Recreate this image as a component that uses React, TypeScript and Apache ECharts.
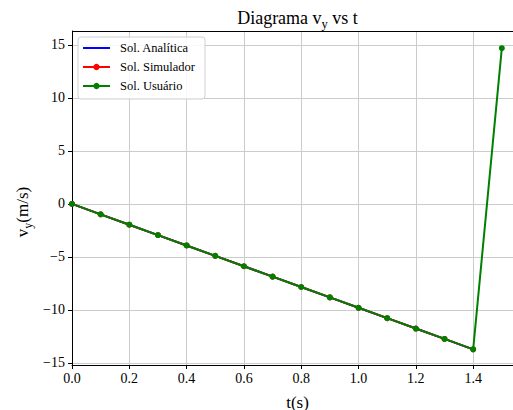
import React, { useEffect, useRef } from "react";
import * as echarts from "echarts";

const tAnalitica = [0, 0.1, 0.2, 0.3, 0.4, 0.5, 0.6, 0.7, 0.8, 0.9, 1.0, 1.1, 1.2, 1.3, 1.4];
const vAnalitica = [0, -0.98, -1.96, -2.94, -3.92, -4.9, -5.88, -6.86, -7.84, -8.82, -9.8, -10.78, -11.76, -12.74, -13.72];
const tSimulador = [0, 0.1, 0.2, 0.3, 0.4, 0.5, 0.6, 0.7, 0.8, 0.9, 1.0, 1.1, 1.2, 1.3, 1.4];
const vSimulador = [0, -0.98, -1.96, -2.94, -3.92, -4.9, -5.88, -6.86, -7.84, -8.82, -9.8, -10.78, -11.76, -12.74, -13.72];
const tUsuario = [0, 0.1, 0.2, 0.3, 0.4, 0.5, 0.6, 0.7, 0.8, 0.9, 1.0, 1.1, 1.2, 1.3, 1.4, 1.5];
const vUsuario = [0, -0.98, -1.96, -2.94, -3.92, -4.9, -5.88, -6.86, -7.84, -8.82, -9.8, -10.78, -11.76, -12.74, -13.72, 14.7];
const xTicks = [0, 0.2, 0.4, 0.6, 0.8, 1.0, 1.2, 1.4];
const yTicks = [-15, -10, -5, 0, 5, 10, 15];

const FONT = "Liberation Serif";

const pairs = (xs: number[], ys: number[]) => xs.map((x, i) => [x, ys[i]]);

export default function App() {
  const ref = useRef<HTMLDivElement>(null);
  useEffect(() => {
    document.body.style.margin = "0";
    const chart = echarts.init(ref.current!, undefined, { renderer: "svg" });
    const gridLeft = 72;
    const gridTop = 31;
    const gridW = 441;
    const gridH = 334;
    const centerX = 297.5;
    chart.setOption({
      animation: false,
      textStyle: { fontFamily: FONT },
      grid: { left: gridLeft, top: gridTop, width: gridW, height: gridH, containLabel: false },
      legend: {
        orient: "vertical",
        left: 78,
        top: 37,
        padding: [4, 10, 6, 4],
        itemGap: 5,
        itemWidth: 27,
        itemHeight: 8,
        backgroundColor: "rgba(255,255,255,0.85)",
        borderColor: "#d0d0d0",
        borderWidth: 1,
        borderRadius: 3,
        textStyle: { fontFamily: FONT, fontSize: 12.5, color: "#000", lineHeight: 14, padding: [0, 0, 0, 5] },
        data: [
          { name: "Sol. Analítica", icon: "path://M0,0h27v2h-27z" },
          { name: "Sol. Simulador" },
          { name: "Sol. Usuário" },
        ],
      },
      xAxis: {
        type: "value",
        min: 0,
        max: 1.539,
        axisLine: { show: true, onZero: false, lineStyle: { color: "#000", width: 1 } },
        axisTick: { show: true, length: 4, lineStyle: { color: "#000" }, customValues: xTicks },
        axisLabel: {
          customValues: xTicks,
          color: "#000",
          fontFamily: FONT,
          fontSize: 14,
          margin: 6,
          formatter: (v: number) => v.toFixed(1),
        },
        splitLine: { show: true, lineStyle: { color: "#cccccc", width: 1 } },
      },
      yAxis: {
        type: "value",
        min: -15.2,
        max: 16.32,
        axisLine: { show: true, onZero: false, lineStyle: { color: "#000", width: 1 } },
        axisTick: { show: true, length: 4, lineStyle: { color: "#000" }, customValues: yTicks },
        axisLabel: {
          customValues: yTicks,
          color: "#000",
          fontFamily: FONT,
          fontSize: 14,
          margin: 7,
          formatter: (v: number) => (v < 0 ? "\u2212" + Math.abs(v) : String(v)),
        },
        splitLine: { show: true, lineStyle: { color: "#cccccc", width: 1 } },
      },
      graphic: [
        {
          type: "line",
          shape: { x1: gridLeft, y1: gridTop + 0.5, x2: gridLeft + gridW, y2: gridTop + 0.5 },
          style: { stroke: "#000", lineWidth: 1 },
          z: 100,
        },
        {
          type: "text",
          x: centerX,
          y: 6,
          style: {
            text: "{a|Diagrama v}{s|y}{a| vs t}",
            textAlign: "center",
            textVerticalAlign: "top",
            rich: {
              a: { fontFamily: FONT, fontSize: 18, color: "#000", lineHeight: 24, verticalAlign: "middle" },
              s: { fontFamily: FONT, fontSize: 12.5, color: "#000", lineHeight: 24, verticalAlign: "bottom" },
            },
          },
        },
        {
          type: "text",
          x: centerX,
          y: 402,
          style: {
            text: "t(s)",
            textAlign: "center",
            textVerticalAlign: "middle",
            fontFamily: FONT,
            fontSize: 17,
            fill: "#000",
          },
        },
        {
          type: "text",
          x: 22,
          y: 212,
          rotation: Math.PI / 2,
          style: {
            text: "{a|v}{s|y}{a|(m/s)}",
            textAlign: "center",
            textVerticalAlign: "middle",
            rich: {
              a: { fontFamily: FONT, fontSize: 17, color: "#000", lineHeight: 24, verticalAlign: "middle" },
              s: { fontFamily: FONT, fontSize: 12, color: "#000", lineHeight: 24, verticalAlign: "bottom" },
            },
          },
        },
      ],
      series: [
        {
          name: "Sol. Analítica",
          type: "line",
          data: pairs(tAnalitica, vAnalitica),
          symbol: "none",
          lineStyle: { color: "#0000ff", width: 2 },
          itemStyle: { color: "#0000ff" },
          z: 2,
        },
        {
          name: "Sol. Simulador",
          type: "line",
          data: pairs(tSimulador, vSimulador),
          symbol: "circle",
          symbolSize: 6,
          lineStyle: { color: "#ff0000", width: 2 },
          itemStyle: { color: "#ff0000" },
          z: 3,
        },
        {
          name: "Sol. Usuário",
          type: "line",
          data: pairs(tUsuario, vUsuario),
          symbol: "circle",
          symbolSize: 6,
          lineStyle: { color: "#008000", width: 2 },
          itemStyle: { color: "#008000" },
          z: 4,
        },
      ],
    });
    return () => chart.dispose();
  }, []);
  return <div ref={ref} style={{ width: 513, height: 410, overflow: "hidden" }} />;
}
